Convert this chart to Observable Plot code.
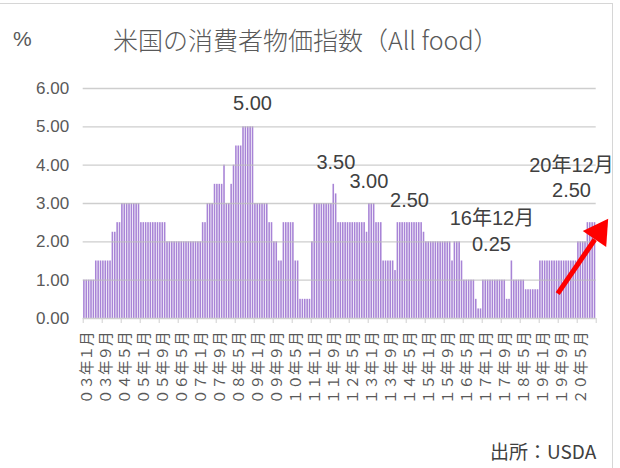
<!DOCTYPE html>
<html><head><meta charset="utf-8">
<script src="https://cdn.jsdelivr.net/npm/d3@7"></script>
<script src="https://cdn.jsdelivr.net/npm/@observablehq/plot@0.6"></script>
<style>
body{margin:0;background:#fff;}
#wrap{position:relative;width:620px;height:468px;overflow:hidden;background:#fff;
  font-family:"Liberation Sans","Noto Sans CJK JP",sans-serif;color:#595959;}
#frame{position:absolute;left:-2px;top:3px;width:614px;height:480px;border-top:1px solid #d6d6d6;border-right:1px solid #d6d6d6;}
#pct{position:absolute;left:13px;top:28px;font-size:21px;line-height:22px;}
#title{position:absolute;left:113px;top:26px;font-size:25px;line-height:26px;font-family:"Noto Sans CJK JP","Liberation Sans",sans-serif;font-weight:300;white-space:nowrap;}
#chart{position:absolute;left:0;top:70px;}
#src{position:absolute;left:490px;top:441px;font-size:19px;line-height:20px;color:#404040;font-family:"Noto Sans CJK JP","Liberation Sans",sans-serif;white-space:nowrap;}
</style></head><body>
<div id="wrap">
  <div id="frame"></div>
  <div id="pct">%</div>
  <div id="title">米国の消費者物価指数（All food）</div>
  <div id="chart"></div>
  <div id="src">出所：USDA</div>
</div>
<script>
// Monthly values (%), Jan 2003 – Dec 2020
const y2003 = [1, 1, 1, 1, 1, 1.5, 1.5, 1.5, 1.5, 1.5, 1.5, 1.5];
const y2004 = [2.25, 2.25, 2.5, 2.5, 3, 3, 3, 3, 3, 3, 3, 3];
const y2005 = [2.5, 2.5, 2.5, 2.5, 2.5, 2.5, 2.5, 2.5, 2.5, 2.5, 2.5, 2];
const y2006 = [2, 2, 2, 2, 2, 2, 2, 2, 2, 2, 2, 2];
const y2007 = [2, 2, 2.5, 2.5, 3, 3, 3, 3.5, 3.5, 3.5, 3.5, 4];
const y2008 = [3, 3, 3.5, 4, 4.5, 4.5, 4.5, 5, 5, 5, 5, 5];
const y2009 = [3, 3, 3, 3, 3, 3, 2.5, 2.5, 2, 2, 1.5, 1.5];
const y2010 = [2.5, 2.5, 2.5, 2.5, 2.5, 1.5, 1.5, 0.5, 0.5, 0.5, 0.5, 0.5];
const y2011 = [2, 3, 3, 3, 3, 3, 3, 3, 3, 3.5, 3.25, 2.5];
const y2012 = [2.5, 2.5, 2.5, 2.5, 2.5, 2.5, 2.5, 2.5, 2.5, 2.5, 2.5, 2.25];
const y2013 = [3, 3, 3, 2.5, 2.5, 2.5, 1.5, 1.5, 1.5, 1.5, 1.5, 1.25];
const y2014 = [2.5, 2.5, 2.5, 2.5, 2.5, 2.5, 2.5, 2.5, 2.5, 2.5, 2.5, 2.25];
const y2015 = [2, 2, 2, 2, 2, 2, 2, 2, 2, 2, 2, 1.5];
const y2016 = [2, 2, 2, 1.5, 1, 1, 1, 1, 1, 0.5, 0.25, 0.25];
const y2017 = [1, 1, 1, 1, 1, 1, 1, 1, 1, 1, 0.5, 0.5];
const y2018 = [1.5, 1, 1, 1, 1, 1, 0.75, 0.75, 0.75, 0.75, 0.75, 0.75];
const y2019 = [1.5, 1.5, 1.5, 1.5, 1.5, 1.5, 1.5, 1.5, 1.5, 1.5, 1.5, 1.5];
const y2020 = [1.5, 1.5, 1.5, 1.5, 2, 2, 2, 2, 2.5, 2.5, 2.5, 2.5];

const values = [].concat(y2003, y2004, y2005, y2006, y2007, y2008, y2009, y2010, y2011,
  y2012, y2013, y2014, y2015, y2016, y2017, y2018, y2019, y2020);

// X tick labels, every 8th month starting Jan 2003
const tickLabels = ["０３年１月","０３年９月","０４年５月","０５年１月","０５年９月","０６年５月",
  "０７年１月","０７年９月","０８年５月","０９年１月","０９年９月","１０年５月","１１年１月",
  "１１年９月","１２年５月","１３年１月","１３年９月","１４年５月","１５年１月","１５年９月",
  "１６年５月","１７年１月","１７年９月","１８年５月","１９年１月","１９年９月","２０年５月"];
const yTicks = [0, 1, 2, 3, 4, 5, 6];

// Annotations (month index, value level, text)
const annMonth = [71.3, 106.4, 120.3, 137.4, 172.1, 171.9, 205.6, 205.6];
const annValue = [5.6, 4.06, 3.56, 3.08, 2.6, 1.93, 3.98, 3.33];
const annText = ["5.00", "3.50", "3.00", "2.50", "16年12月", "0.25", "20年12月", "2.50"];

// Red arrow (month index / value level)
const arrowTail = {x: 199.8, y: 0.65};
const arrowBase = {x: 215.4, y: 2.06};
const arrowHead = {x: 217.2, y: 2.25};

const N = values.length;
const data = values.map((v, i) => ({i, v}));
const boundaries = d3.range(0, N + 1, 8);
const labelPos = tickLabels.map((_, k) => k * 8 + 0.5);
const anns = annText.map((t, k) => ({x: annMonth[k], y: annValue[k], t}));

const chart = Plot.plot({
  width: 620,
  height: 360,
  marginTop: 18,
  marginBottom: 112,
  marginLeft: 82.7,
  marginRight: 24.3,
  x: {domain: [0, N], axis: null, label: null},
  y: {domain: [0, 6], axis: null, label: null},
  style: {fontFamily: '"Liberation Sans","Noto Sans CJK JP",sans-serif', background: "transparent", overflow: "visible"},
  marks: [
    Plot.rectY(data, {x1: "i", x2: d => d.i + 1, y: "v", fill: "#a884d6", insetLeft: 0.4, insetRight: 0.4}),
    Plot.gridY(yTicks.slice(1), {stroke: "#bdbdbd", strokeOpacity: 0.75, strokeWidth: 1.4}),
    Plot.ruleY([0], {stroke: "#d0d0d0", strokeWidth: 1.3}),
    Plot.axisY(yTicks, {tickSize: 0, tickPadding: 14, tickFormat: d => d.toFixed(2), fontSize: 17, fill: "#595959", label: null}),
    Plot.axisX(boundaries, {tickSize: 5, tickFormat: () => "", stroke: "#d0d0d0", label: null}),
    Plot.axisX(labelPos, {tickSize: 0, tickPadding: 13, tickRotate: -90, fontSize: 14.5, fill: "#595959", dx: 3, label: null,
      tickFormat: d => tickLabels[Math.round((d - 0.5) / 8)]}),
    Plot.text(anns, {x: "x", y: "y", text: "t", fontSize: 20, fill: "#404040"}),
    Plot.link([0], {x1: () => arrowTail.x, y1: () => arrowTail.y, x2: () => arrowBase.x, y2: () => arrowBase.y,
      stroke: "#ff0000", strokeWidth: 5}),
    Plot.dot([arrowHead], {x: "x", y: "y", symbol: "triangle", r: 10.5, fill: "#ff0000", stroke: null, rotate: 34})
  ]
});
document.getElementById("chart").appendChild(chart);
</script>
</body></html>
